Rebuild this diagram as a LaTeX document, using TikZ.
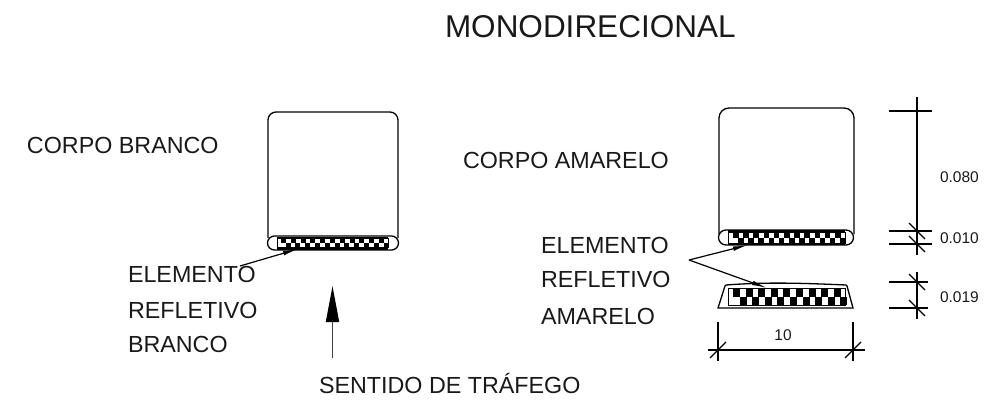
\documentclass[tikz,border=0pt]{standalone}
\usepackage{fontspec}
\setmainfont{Liberation Sans}
\usetikzlibrary{arrows.meta}
\tikzset{
  x=1pt,y=-1pt,
  outline/.style={draw=black,line width=1.3pt},
  dimline/.style={draw=black,line width=1.1pt},
  lbl/.style={anchor=base west,inner sep=0pt,outer sep=0pt,font=\fontsize{23.3}{27}\selectfont,text=black!90},
  titlelbl/.style={lbl,font=\fontsize{31.5}{36}\selectfont},
  dimlbl/.style={lbl,font=\fontsize{15.5}{18}\selectfont},
  leader/.style={draw=black,line width=1.2pt,-{Latex[length=15pt,width=4.5pt]}},
  flow/.style={draw=black!75,line width=1.8pt,-{Triangle[length=36pt,width=13pt,color=black]}},
}
\newcommand{\tickmark}[2]{\draw[dimline] (#1-8,#2-8) -- (#1+8,#2+8);}
\newcommand{\ftick}[2]{\draw[dimline] (#1-8,#2+8) -- (#1+8,#2-8);}
\begin{document}
\begin{tikzpicture}
\useasboundingbox (0,0) rectangle (995,401);
% title and labels
\node[titlelbl] (title) at (445,38) {MONODIRECIONAL};
\node[lbl] (cb) at (27,153) {CORPO BRANCO};
\node[lbl] (ca) at (463,168) {CORPO AMARELO};
\node[lbl] (el1) at (128,282) {ELEMENTO};
\node[lbl] (el2) at (128,318) {REFLETIVO};
\node[lbl] (el3) at (128,352) {BRANCO};
\node[lbl] (er1) at (541,253) {ELEMENTO};
\node[lbl] (er2) at (541,287) {REFLETIVO};
\node[lbl] (er3) at (541,324) {AMARELO};
\node[lbl] (sent) at (319,393) {SENTIDO DE TRÁFEGO};
% left body
\draw[outline,rounded corners=8pt] (268,238) -- (268,112) -- (398,112) -- (398,238);
\draw[outline,rounded corners=7pt] (267.5,236) rectangle (398.5,250);
\draw[line width=0.9pt] (277,238) rectangle (388,247);
\fill (277,236.5) rectangle (388,238.5);
\fill (277,246.5) rectangle (388,249.5);
\foreach \i in {0,...,10}{
  \fill ({281+\i*9.8},238) rectangle ++(5,4.5);
  \fill ({285.5+\i*9.8},242.5) rectangle ++(5,4.5);
}
% right body
\draw[outline,rounded corners=10pt] (719,234) -- (719,108) -- (854,108) -- (854,234);
\draw[outline,rounded corners=7.5pt] (718.5,230) rectangle (853.5,245);
\draw[line width=0.9pt] (728,232) rectangle (845,243);
\fill (728,230) rectangle (845,233);
\fill (728,242.5) rectangle (845,245);
\foreach \i in {0,...,10}{
  \fill ({733+\i*10.2},233) rectangle ++(5.5,5);
  \fill ({738+\i*10.2},238) rectangle ++(5.5,5);
}
% reflective section
\draw[outline] (718,308) -- (725,286) -- (726,285) .. controls (765,282) and (800,283) .. (846,285) -- (847,286) -- (853,308) -- cycle;
\draw[line width=1pt] (728,288.5) rectangle (845,305.5);
\foreach \i in {0,...,8}{
  \fill ({733+\i*12.6},288.5) rectangle ++(7,8);
  \fill ({739.5+\i*12.6},296.5) rectangle ++(7,8);
}
% leaders
\coordinate (lstart) at (240,266);
\coordinate (ltip) at (298,249);
\coordinate (rstart) at (689,260);
\coordinate (rtip1) at (748,245);
\coordinate (rtip2) at (767,288);
\draw[leader] (lstart) -- (ltip);
\draw[leader] (rstart) -- (rtip1);
\draw[leader] (rstart) -- (rtip2);
% traffic arrow
\coordinate (fstart) at (332.5,358);
\coordinate (ftip) at (332.5,286);
\draw[flow] (fstart) -- (ftip);
% bottom dimension
\coordinate (da) at (708,350);
\coordinate (db) at (865,350);
\draw[dimline] (718,322) -- (718,361);
\draw[dimline] (853,322) -- (853,361);
\draw[dimline] (da) -- (db);
\ftick{718}{350}
\ftick{853}{350}
\node[dimlbl,anchor=base] (d10) at (783,340) {10};
% right dimensions
\coordinate (va) at (917,97);
\coordinate (vb) at (917,255);
\coordinate (vc) at (917,272);
\coordinate (vd) at (917,319);
\draw[dimline] (va) -- (vb);
\draw[dimline] (vc) -- (vd);
\draw[dimline] (889,111) -- (932,111);
\draw[dimline] (889,231) -- (932,231);
\draw[dimline] (889,244) -- (932,244);
\draw[dimline] (889,282) -- (928,282);
\draw[dimline] (889,308) -- (928,308);
\tickmark{917}{231}
\tickmark{917}{244}
\tickmark{917}{282}
\tickmark{917}{308}
\node[dimlbl] (d080) at (940,182) {0.080};
\node[dimlbl] (d010) at (940,243) {0.010};
\node[dimlbl] (d019) at (940,302) {0.019};
\end{tikzpicture}
\end{document}
